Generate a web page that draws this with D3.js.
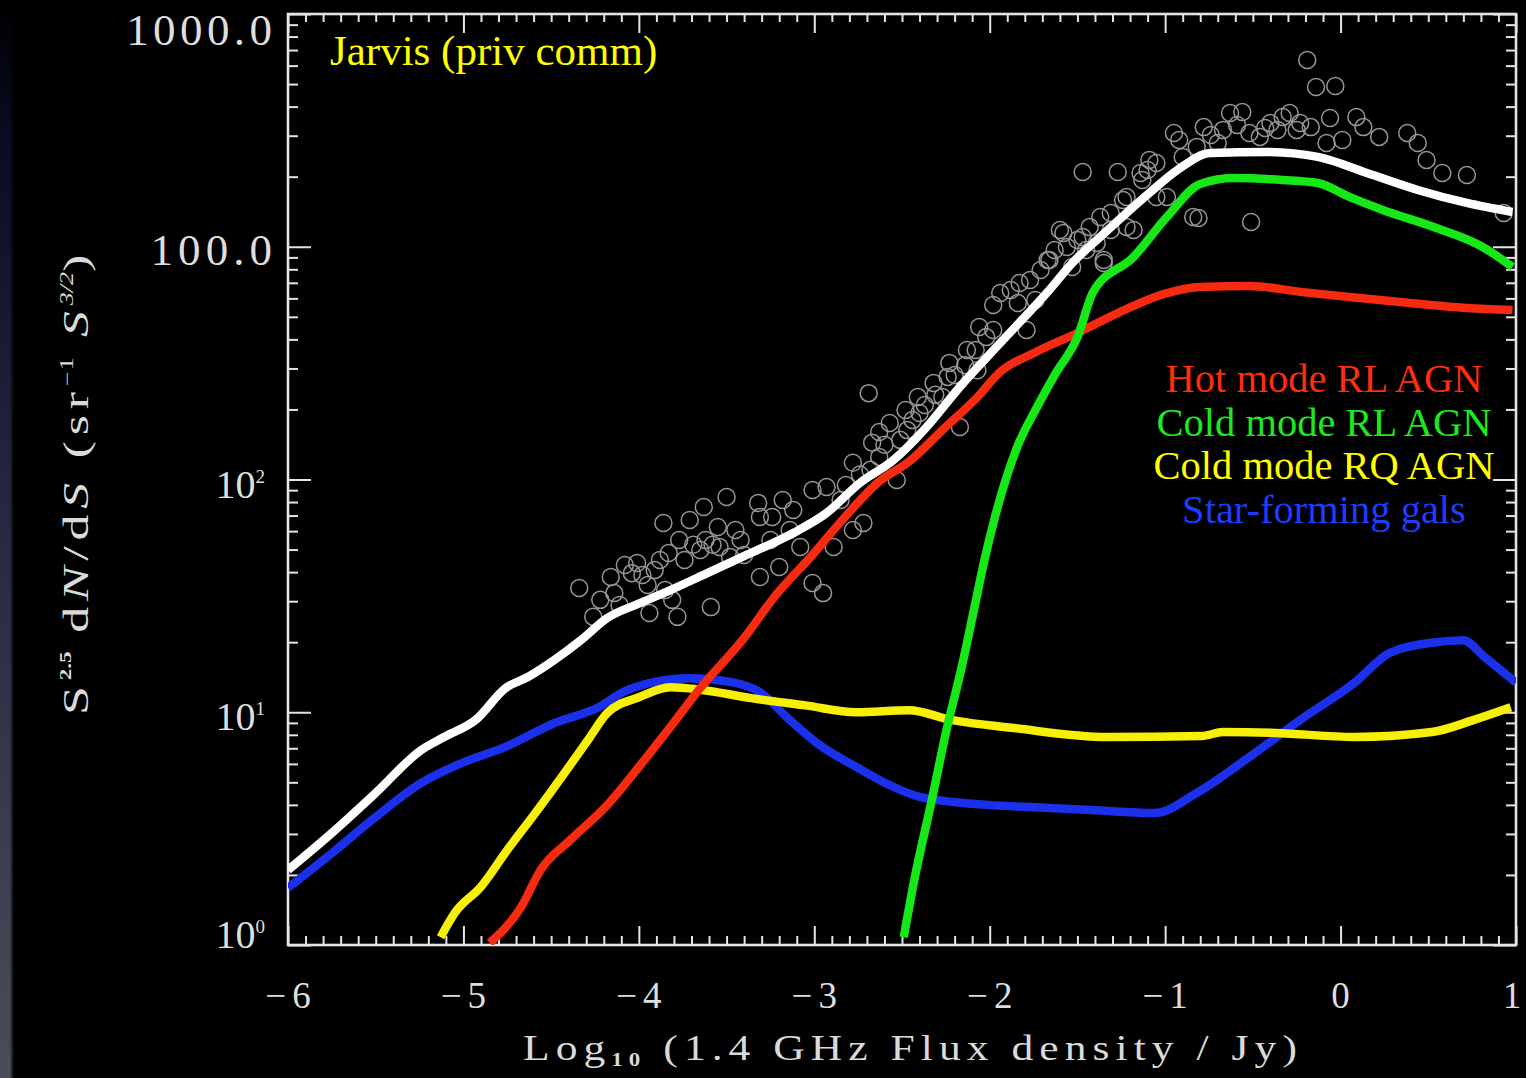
<!DOCTYPE html>
<html>
<head>
<meta charset="utf-8">
<script src="https://cdn.jsdelivr.net/npm/d3@7"></script>
<style>
  html, body { margin: 0; padding: 0; background: #000; overflow: hidden; }
  svg { display: block; }
</style>
</head>
<body>
<svg id="chart" width="1526" height="1078"></svg>
<script>
// Euclidean-normalised 1.4 GHz source counts, S^2.5 dN/dS, against log10 flux density (Jy)

// axis ticks
const xTicks = [-6, -5, -4, -3, -2, -1, 0, 1];
const xTickLabels = ["\u22126", "\u22125", "\u22124", "\u22123", "\u22122", "\u22121", "0", "1"];
const yTicks = [1, 10, 100, 1000, 10000];
const yTickBase = ["10", "10", "10", "100.0", "1000.0"];
const yTickExp = ["0", "1", "2", "", ""];

// observed counts (open circles)
const jarvisCounts = [
  [-4.34,34.2],[-4.26,25.7],[-4.16,38.1],[-4.14,32.5],[-4.08,42.9],[-4.01,43.8],[-3.98,38.9],[-3.94,26.7],
  [-3.86,65.0],[-3.88,45.1],[-3.81,30.4],[-3.78,25.7],[-3.77,55.0],[-3.71,67.0],[-3.63,76.2],[-3.65,49.8],
  [-3.59,28.3],[-3.55,62.5],[-3.54,51.3],[-3.50,84.1],[-3.48,46.5],[-3.42,55.0],[-3.32,79.3],[-3.31,38.1],
  [-3.31,69.0],[-3.24,69.0],[-3.18,81.7],[-3.20,42.1],[-3.12,73.9],[-3.08,51.3],[-3.01,90.2],[-3.01,35.9],
  [-2.93,92.9],[-2.95,32.5],[-2.89,51.3],[-4.04,39.6],[-3.95,35.2],[-3.91,40.8],[-3.83,48.3],[-3.74,45.1],
  [-3.69,52.4],[-3.62,55.0],[-3.58,52.4],[-3.45,60.7],[-3.40,47.4],[-3.25,55.0],[-3.14,60.7],[-4.22,30.4],
  [-4.11,28.9],[-3.85,33.5],
  [-2.78,118],[-2.78,60.7],[-2.72,65.0],[-2.69,235],[-2.67,144],[-2.63,125],[-2.57,175],[-2.53,99.5],
  [-2.47,163],[-2.41,226],[-2.40,193],[-2.32,260],[-2.23,317],[-2.27,226],[-2.17,168],[-2.13,360],
  [-2.07,295],[-2.02,409],[-2.68,110],[-2.60,141],[-2.51,148],[-2.48,199],[-2.37,209],[-2.31,231],
  [-2.20,281],[-2.14,310],[-2.08,360],[-1.98,439],[-2.85,81.7],[-2.82,94.7],[-2.74,105],[-2.63,160],
  [-2.44,180],[-2.24,276],[-2.06,452],
  [-1.94,633],[-1.98,562],[-1.84,573],[-1.79,439],[-1.83,699],[-1.71,794],[-1.67,877],[-1.60,1180],
  [-1.56,998],[-1.47,1102],[-1.35,877],[-1.31,1180],[-1.53,818],[-1.45,968],[-1.18,1180],[-1.47,2094],
  [-1.27,2094],[-1.10,2138],[-1.22,1637],[-1.37,1343],[-1.66,877],[-1.58,1146],[-1.50,1069],[-1.43,1216],
  [-1.39,1038],[-1.35,851],[-1.31,1396],[-1.24,1588],[-1.22,1216],[-1.14,2075],[-1.13,1936],[-1.09,2359],
  [-1.05,1637],[-1.05,2291],[-1.88,652],[-1.77,720],[-1.74,590],[-1.63,968],
  [-0.99,1637],[-0.95,3083],[-0.90,2432],[-0.84,1343],[-0.82,2685],[-0.81,1330],[-0.78,3266],[-0.70,2793],
  [-0.67,3177],[-0.63,3758],[-0.56,3793],[-0.52,3083],[-0.51,1277],[-0.46,2965],[-0.40,3404],[-0.36,3177],
  [-0.33,3606],[-0.29,3758],[-0.25,3177],[-0.23,3404],[-0.19,6339],[-0.17,3266],[-0.14,4857],[-0.03,4909],
  [-0.08,2793],[-0.06,3573],[0.01,2877],[0.09,3606],[0.13,3266],[0.22,2965],[0.38,3083],[0.44,2793],
  [0.49,2359],[0.58,2075],[0.72,2032],[0.93,1396],[-0.92,2877],[-0.74,3020],[-0.59,3334],[-0.43,3236]
];

// model: all sources
const allSources = [
  [-6.00,2.10],[-5.75,3.03],[-5.50,4.50],[-5.24,6.89],[-5.11,7.83],[-4.93,9.27],[-4.76,12.7],[-4.63,14.2],
  [-4.48,16.8],[-4.33,20.4],[-4.18,25.4],[-3.99,29.5],[-3.82,33.5],[-3.61,39.6],[-3.41,46.5],[-3.12,58.9],
  [-2.93,71.8],[-2.74,96.6],[-2.55,121],[-2.36,168],[-2.17,250],[-1.94,386],[-1.66,652],[-1.53,851],
  [-1.37,1102],[-1.09,1702],[-0.93,2138],[-0.74,2529],[-0.42,2553],[-0.13,2432],[0.15,2075],[0.44,1754],
  [0.72,1542],[0.98,1410]
];

// model: hot-mode radio-loud AGN
const hotModeRL = [
  [-4.85,1.02],[-4.67,1.46],[-4.56,2.10],[-4.39,2.83],[-4.19,3.92],[-4.00,5.82],[-3.82,8.65],[-3.65,12.7],
  [-3.41,20.4],[-3.21,32.5],[-3.02,46.5],[-2.84,67.0],[-2.64,96.6],[-2.45,121],[-2.27,163],[-2.07,226],
  [-1.94,290],[-1.75,349],[-1.50,426],[-1.27,519],[-0.99,632],[-0.80,671],[-0.52,678],[-0.23,640],
  [0.05,608],[0.34,579],[0.72,546],[0.98,535]
];

// model: cold-mode radio-loud AGN
const coldModeRL = [
  [-2.49,1.08],[-2.43,1.90],[-2.33,4.20],[-2.25,8.15],[-2.16,15.6],[-2.09,27.5],[-2.03,45.1],[-1.97,69.0],
  [-1.85,134],[-1.73,205],[-1.63,281],[-1.50,409],[-1.41,640],[-1.18,904],[-0.99,1343],[-0.80,1862],
  [-0.61,1972],[-0.33,1936],[-0.13,1879],[0.05,1637],[0.24,1439],[0.53,1216],[0.81,998],[0.98,818]
];

// model: cold-mode radio-quiet AGN
const coldModeRQ = [
  [-5.13,1.08],[-5.05,1.37],[-4.90,1.78],[-4.75,2.56],[-4.59,3.69],[-4.44,5.27],[-4.29,7.60],[-4.18,9.93],
  [-4.00,11.6],[-3.82,12.8],[-3.65,12.5],[-3.36,11.5],[-3.05,10.7],[-2.76,10.0],[-2.46,10.2],[-2.22,9.27],
  [-1.86,8.55],[-1.33,7.83],[-0.79,7.91],[-0.67,8.22],[-0.37,8.15],[0.08,7.83],[0.52,8.22],[0.76,9.27],
  [0.97,10.5]
];

// model: star-forming galaxies
const starForming = [
  [-6.00,1.76],[-5.75,2.48],[-5.50,3.55],[-5.24,4.97],[-5.01,6.05],[-4.76,7.10],[-4.48,8.99],[-4.23,10.5],
  [-4.10,12.1],[-3.91,13.5],[-3.71,14.0],[-3.48,13.5],[-3.31,12.2],[-3.14,9.27],[-2.97,7.23],[-2.76,5.82],
  [-2.57,4.86],[-2.40,4.33],[-2.01,4.00],[-1.66,3.88],[-1.42,3.80],[-1.06,3.69],[-0.82,4.50],[-0.52,6.42],
  [-0.23,9.27],[0.08,13.4],[0.28,18.0],[0.52,19.9],[0.70,20.4],[0.82,17.3],[1.00,13.4]
];

const legendNames = ["Hot mode RL AGN", "Cold mode RL AGN", "Cold mode RQ AGN", "Star-forming gals"];

// ---------------------------------------------------------------------------
const svg = d3.select("#chart");
const W = 1526, H = 1078;
const plot = { left: 288, right: 1516, top: 14, bottom: 945 };

const x = d3.scaleLinear().domain([-6, 1]).range([plot.left, plot.right]);
const y = d3.scaleLog().domain([1, 1e4]).range([plot.bottom, plot.top]);

const defs = svg.append("defs");

// slide background: black with a soft slate strip on the far left
const strip = defs.append("linearGradient").attr("id", "strip")
  .attr("x1", 0).attr("y1", 0).attr("x2", 0).attr("y2", 1);
strip.append("stop").attr("offset", "0%").attr("stop-color", "#000000");
strip.append("stop").attr("offset", "12%").attr("stop-color", "#080b22");
strip.append("stop").attr("offset", "45%").attr("stop-color", "#222641");
strip.append("stop").attr("offset", "100%").attr("stop-color", "#4a4d58");
const fade = defs.append("linearGradient").attr("id", "fade")
  .attr("x1", 0).attr("y1", 0).attr("x2", 1).attr("y2", 0);
fade.append("stop").attr("offset", "0%").attr("stop-color", "#fff").attr("stop-opacity", 1);
fade.append("stop").attr("offset", "70%").attr("stop-color", "#fff").attr("stop-opacity", 1);
fade.append("stop").attr("offset", "100%").attr("stop-color", "#fff").attr("stop-opacity", 0);
defs.append("mask").attr("id", "stripMask")
  .append("rect").attr("x", 0).attr("y", 0).attr("width", 14).attr("height", H).attr("fill", "url(#fade)");

svg.append("rect").attr("width", W).attr("height", H).attr("fill", "#000");
svg.append("rect").attr("x", 0).attr("y", 0).attr("width", 14).attr("height", H)
  .attr("fill", "url(#strip)").attr("mask", "url(#stripMask)");

defs.append("clipPath").attr("id", "plotClip")
  .append("rect").attr("x", plot.left).attr("y", plot.top)
  .attr("width", plot.right - plot.left).attr("height", plot.bottom - plot.top);

// ---------------------------------------------------------------------------
// axes: major + minor ticks on all four sides
const axisColor = "#e4e4e4";
const xMinor = d3.range(-60, 11).filter(i => i % 10 !== 0).map(i => i / 10);
const yMinor = [];
for (let k = 0; k < 4; k++) for (let m = 2; m <= 9; m++) yMinor.push(m * Math.pow(10, k));

function styleAxis(g) {
  g.select(".domain").remove();
  g.selectAll(".tick line").attr("stroke", axisColor).attr("stroke-width", 2);
  g.selectAll(".tick text").remove();
}

const axes = svg.append("g");
axes.append("g").attr("transform", `translate(0,${plot.bottom})`)
  .call(d3.axisBottom(x).tickValues(xTicks).tickSize(-19)).call(styleAxis);
axes.append("g").attr("transform", `translate(0,${plot.bottom})`)
  .call(d3.axisBottom(x).tickValues(xMinor).tickSize(-9)).call(styleAxis);
axes.append("g").attr("transform", `translate(0,${plot.top})`)
  .call(d3.axisTop(x).tickValues(xTicks).tickSize(-19)).call(styleAxis);
axes.append("g").attr("transform", `translate(0,${plot.top})`)
  .call(d3.axisTop(x).tickValues(xMinor).tickSize(-8)).call(styleAxis);
axes.append("g").attr("transform", `translate(${plot.left},0)`)
  .call(d3.axisLeft(y).tickValues(yTicks).tickSize(-23)).call(styleAxis);
axes.append("g").attr("transform", `translate(${plot.left},0)`)
  .call(d3.axisLeft(y).tickValues(yMinor).tickSize(-10)).call(styleAxis);
axes.append("g").attr("transform", `translate(${plot.right},0)`)
  .call(d3.axisRight(y).tickValues(yTicks).tickSize(-23)).call(styleAxis);
axes.append("g").attr("transform", `translate(${plot.right},0)`)
  .call(d3.axisRight(y).tickValues(yMinor).tickSize(-10)).call(styleAxis);

svg.append("rect")
  .attr("x", plot.left).attr("y", plot.top)
  .attr("width", plot.right - plot.left).attr("height", plot.bottom - plot.top)
  .attr("fill", "none").attr("stroke", axisColor).attr("stroke-width", 2.6);

// tick labels
const labelFont = "'Liberation Serif', 'DejaVu Serif', serif";
const labelFill = "#dedede";

svg.append("g").selectAll("text").data(xTicks).join("text")
  .attr("x", d => Math.min(x(d), W - 14)).attr("y", 1008)
  .attr("text-anchor", "middle")
  .attr("font-family", labelFont).attr("font-size", 37)
  .attr("fill", labelFill)
  .each(function (d, i) {
    const t = d3.select(this);
    const lab = xTickLabels[i];
    if (lab.startsWith("\u2212")) {
      t.append("tspan").text("\u2212");
      t.append("tspan").attr("dx", 6).text(lab.slice(1));
    } else {
      t.text(lab);
    }
  });

svg.append("g").selectAll("text").data(yTicks).join("text")
  .attr("font-family", labelFont)
  .attr("fill", labelFill)
  .attr("text-anchor", "end")
  .each(function (d, i) {
    const t = d3.select(this);
    const decimal = yTickExp[i] === "";
    const yy = y(d);
    if (decimal) {
      t.attr("x", 272).attr("y", Math.max(yy + 18, 45))
        .attr("font-size", 45)
        .attr("textLength", yTickBase[i].length * 24.3).attr("lengthAdjust", "spacing")
        .text(yTickBase[i]);
    } else {
      t.attr("x", 265).attr("y", Math.min(yy + 18, 948))
        .attr("font-size", 40);
      t.append("tspan").text(yTickBase[i]);
      t.append("tspan").attr("font-size", 19).attr("dy", -15).text(yTickExp[i]);
    }
  });

// axis titles: plotter-style lettering, widened horizontally to the target run
function widen(textSel, baseTransform, target) {
  const w = textSel.node().getBBox().width;
  const k = target / w;
  textSel.attr("transform", `${baseTransform} scale(${k},1)`);
}

const xTitle = svg.append("text")
  .attr("x", 0).attr("y", 0)
  .attr("text-anchor", "middle")
  .attr("font-family", labelFont).attr("font-size", 36)
  .attr("letter-spacing", 5)
  .attr("fill", "#dadada");
xTitle.append("tspan").text("Log");
xTitle.append("tspan").attr("font-size", 19).attr("font-weight", "bold").attr("dy", 6).text("10");
xTitle.append("tspan").attr("dy", -6).text(" (1.4 GHz Flux density / Jy)");
widen(xTitle, "translate(913,1060)", 780);

const yTitle = svg.append("text")
  .attr("x", 0).attr("y", 0)
  .attr("text-anchor", "middle")
  .attr("font-family", labelFont).attr("font-size", 36)
  .attr("letter-spacing", 4)
  .attr("fill", "#dadada");
yTitle.append("tspan").text("S");
yTitle.append("tspan").attr("font-size", 16).attr("font-weight", "bold").attr("letter-spacing", 0).attr("dy", -17).text("2.5");
yTitle.append("tspan").attr("dy", 17).text(" d");
yTitle.append("tspan").attr("font-style", "italic").text("N");
yTitle.append("tspan").text("/d");
yTitle.append("tspan").attr("font-style", "italic").text("S");
yTitle.append("tspan").text(" (sr");
yTitle.append("tspan").attr("font-size", 18).attr("letter-spacing", 1).attr("dy", -15).text("\u22121");
yTitle.append("tspan").attr("dy", 15).text(" ");
yTitle.append("tspan").attr("font-style", "italic").text("S");
yTitle.append("tspan").attr("font-size", 18).attr("letter-spacing", 0).attr("font-style", "italic").attr("dy", -15).text("3/2");
yTitle.append("tspan").attr("dy", 15).text(")");
widen(yTitle, "translate(88,482) rotate(-90)", 466);

// ---------------------------------------------------------------------------
const layer = svg.append("g").attr("clip-path", "url(#plotClip)");

// observed counts
layer.append("g").selectAll("circle").data(jarvisCounts).join("circle")
  .attr("cx", d => x(d[0])).attr("cy", d => y(d[1]))
  .attr("r", 8.5)
  .attr("fill", "none")
  .attr("stroke", "#969696")
  .attr("stroke-width", 1.5);

// model curves
const line = d3.line().x(d => x(d[0])).y(d => y(d[1])).curve(d3.curveMonotoneX);
const curves = [
  { data: starForming, color: "#1b30ea" },
  { data: coldModeRQ, color: "#f8ef08" },
  { data: hotModeRL, color: "#f52a10" },
  { data: coldModeRL, color: "#17e617" },
  { data: allSources, color: "#ffffff" }
];
layer.append("g").selectAll("path").data(curves).join("path")
  .attr("d", d => line(d.data))
  .attr("fill", "none")
  .attr("stroke", d => d.color)
  .attr("stroke-width", 8.5)
  .attr("stroke-linejoin", "round")
  .attr("stroke-linecap", "butt");

// annotations
const annFont = "'Liberation Serif', 'Times New Roman', serif";
svg.append("text")
  .attr("x", 330).attr("y", 65)
  .attr("font-family", annFont).attr("font-size", 43)
  .attr("fill", "#ffff00")
  .text("Jarvis (priv comm)");

const legendColors = ["#ff2d0c", "#1ee81e", "#ffff00", "#1e3cff"];
svg.append("g").selectAll("text").data(legendNames).join("text")
  .attr("x", 1324)
  .attr("y", (d, i) => 392 + i * 43.5)
  .attr("text-anchor", "middle")
  .attr("font-family", annFont).attr("font-size", 40.5)
  .attr("fill", (d, i) => legendColors[i])
  .text(d => d);
</script>
</body>
</html>
